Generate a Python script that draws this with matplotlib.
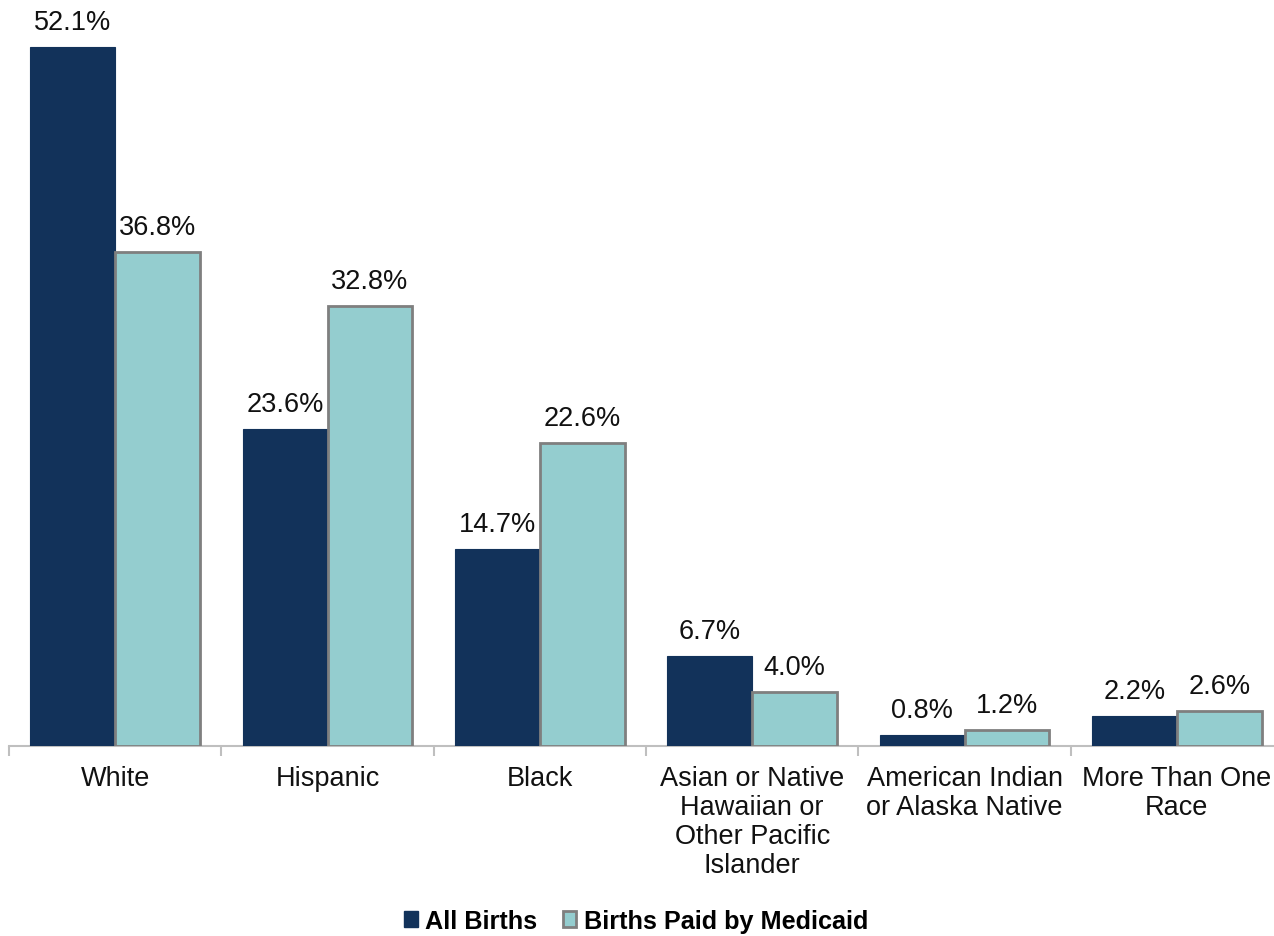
import matplotlib
matplotlib.use("Agg")
import matplotlib.pyplot as plt
import numpy as np
from matplotlib.patches import Patch

plt.rcParams['font.family'] = ['Liberation Sans', 'DejaVu Sans']

categories = ["White", "Hispanic", "Black",
              "Asian or Native\nHawaiian or\nOther Pacific\nIslander",
              "American Indian\nor Alaska Native", "More Than One\nRace"]
all_births = [52.1, 23.6, 14.7, 6.7, 0.8, 2.2]
medicaid_births = [36.8, 32.8, 22.6, 4.0, 1.2, 2.6]
series_names = ["All Births", "Births Paid by Medicaid"]

dark = "#12325A"
light = "#94CDCF"
edge = "#7F7F7F"

W, H = 1274, 937
fig = plt.figure(figsize=(W / 100, H / 100), dpi=100)
ax = fig.add_axes([9 / W, (H - 747) / H, (1283 - 9) / W, (747 - 9) / H])

x = np.arange(len(categories))
bw = 0.4
b1 = ax.bar(x - bw / 2, all_births, bw, color=dark, edgecolor=dark, linewidth=0.8, zorder=3)
b2 = ax.bar(x + bw / 2, medicaid_births, bw, color=light, edgecolor=edge, linewidth=2, zorder=3)

for bars, vals in ((b1, all_births), (b2, medicaid_births)):
    for rect, v in zip(bars, vals):
        ax.text(rect.get_x() + rect.get_width() / 2, v + 0.9, f"{v:.1f}%",
                ha="center", va="bottom", fontsize=19.5, color="#111111")

ax.set_xlim(-0.5, len(categories) - 0.5)
ax.set_ylim(0, 55)
ax.set_yticks([])
for s in ("top", "right", "left"):
    ax.spines[s].set_visible(False)
ax.spines["bottom"].set_color("#BFBFBF")
ax.spines["bottom"].set_linewidth(1.5)

ax.set_xticks(np.arange(len(categories) + 1) - 0.5, minor=False)
ax.set_xticklabels([])
ax.tick_params(axis="x", which="major", length=7, color="#BFBFBF", width=1.5)
ax.set_xticks(x, minor=True)
ax.set_xticklabels(categories, minor=True, fontsize=19.5, color="#111111", va="top", linespacing=1.15)
ax.tick_params(axis="x", which="minor", length=0, pad=14)

handles = [Patch(facecolor=dark, edgecolor=dark), Patch(facecolor=light, edgecolor=edge, linewidth=2)]
fig.legend(handles, series_names, loc="center", bbox_to_anchor=(636 / W, 1 - 922 / H),
           ncol=2, frameon=False, prop={"weight": "bold", "size": 18.2},
           handlelength=0.55, handleheight=0.55, handletextpad=0.3, columnspacing=1.0)

fig.savefig("out.png", dpi=100)
